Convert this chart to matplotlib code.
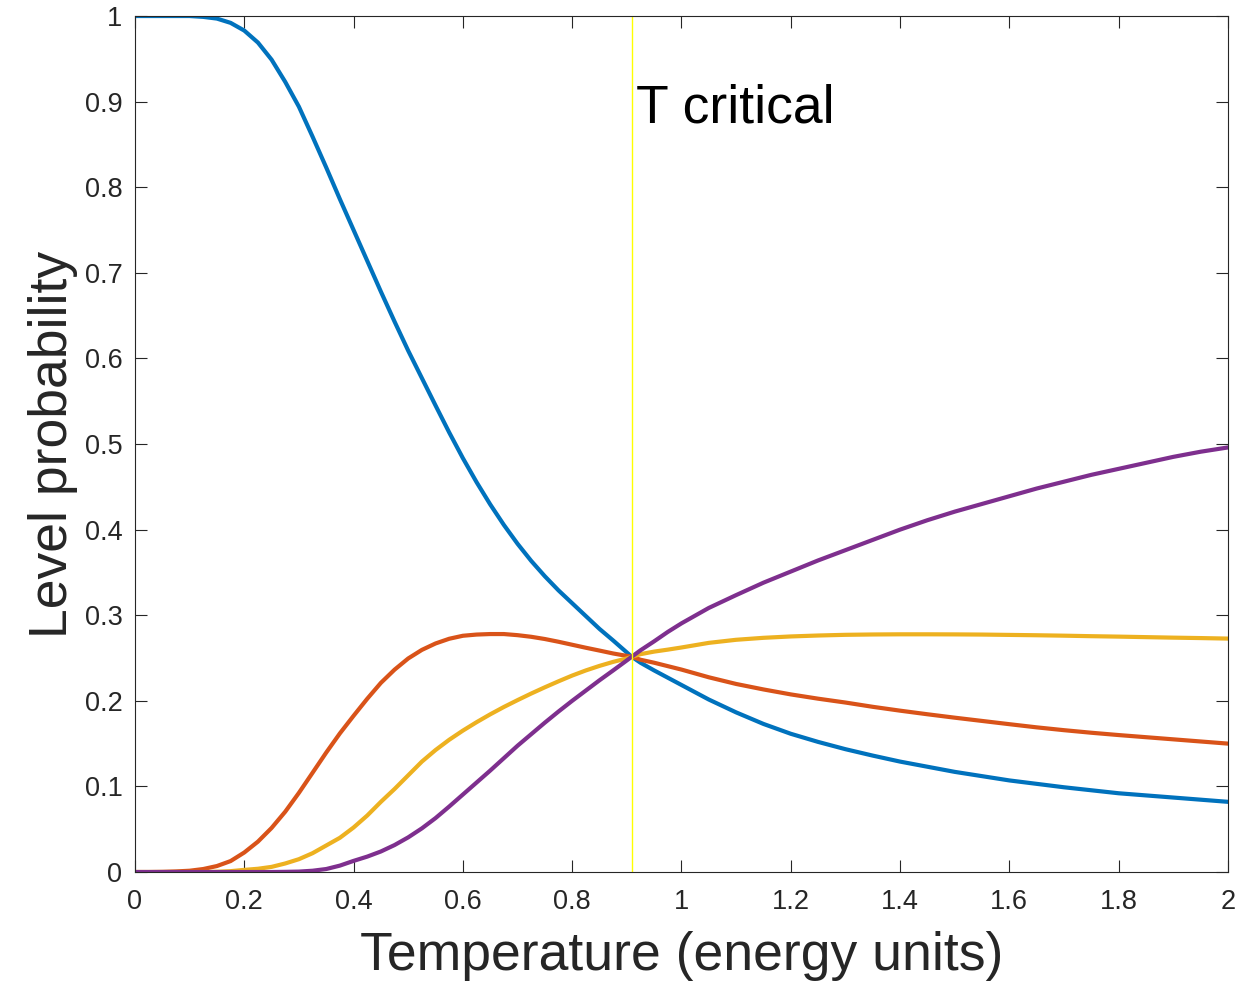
import matplotlib
matplotlib.use('Agg')
import matplotlib.pyplot as plt

plt.rcParams['font.family'] = ['Liberation Sans', 'DejaVu Sans']

# Temperature grid (energy units) and level probabilities
temps = [0.0, 0.025, 0.05, 0.075, 0.1, 0.125, 0.15, 0.175, 0.2, 0.225, 0.25,
         0.275, 0.3, 0.325, 0.35, 0.375, 0.4, 0.425, 0.45, 0.475, 0.5, 0.525,
         0.55, 0.575, 0.6, 0.625, 0.65, 0.675, 0.7, 0.725, 0.75, 0.775, 0.8,
         0.825, 0.85, 0.875, 0.9,
         0.909, 0.925, 0.95, 0.975, 1.0,
         1.05, 1.1, 1.15, 1.2, 1.25, 1.3, 1.35, 1.4, 1.45, 1.5, 1.55, 1.6,
         1.65, 1.7, 1.75, 1.8, 1.85, 1.9, 1.95, 2.0]

level_0 = [1.0, 1.0, 1.0, 1.0, 1.0, 0.999, 0.997, 0.992, 0.983, 0.969, 0.949,
           0.923, 0.894, 0.859, 0.823, 0.786, 0.750, 0.714, 0.678, 0.643, 0.609,
           0.577, 0.545, 0.5135, 0.4835, 0.4555, 0.4295, 0.4055, 0.3835, 0.3635,
           0.3455, 0.329, 0.314, 0.299, 0.284, 0.2705, 0.2565,
           0.2515, 0.2445, 0.2355, 0.227, 0.2185,
           0.2015, 0.1865, 0.173, 0.1615, 0.152, 0.1435, 0.136, 0.129, 0.123,
           0.117, 0.112, 0.107, 0.103, 0.099, 0.0955, 0.092, 0.0895, 0.087,
           0.0845, 0.082]

level_1 = [0.0, 0.0, 0.0002, 0.0007, 0.0015, 0.0035, 0.007, 0.0128, 0.0228,
           0.0355, 0.0515, 0.0705, 0.0925, 0.116, 0.1396, 0.162, 0.1825, 0.2024,
           0.221, 0.2364, 0.2495, 0.2595, 0.267, 0.2725, 0.276, 0.2774, 0.278,
           0.278, 0.2767, 0.2748, 0.2722, 0.269, 0.2655, 0.262, 0.2587, 0.2553,
           0.2525,
           0.2515, 0.248, 0.2445, 0.2405, 0.2365,
           0.2275, 0.2197, 0.2133, 0.2075, 0.2025, 0.198, 0.193, 0.1885, 0.1843,
           0.1803, 0.1765, 0.1727, 0.169, 0.1657, 0.1627, 0.16, 0.1575, 0.155,
           0.1525, 0.150]

level_2 = [0.0, 0.0, 0.0, 0.0, 0.0, 0.0, 0.0003, 0.001, 0.0025, 0.0038, 0.006,
           0.010, 0.015, 0.022, 0.031, 0.040, 0.052, 0.066, 0.082, 0.097, 0.113,
           0.129, 0.1425, 0.1545, 0.1652, 0.175, 0.1842, 0.1928, 0.2008, 0.2085,
           0.2158, 0.2228, 0.2295, 0.2355, 0.2408, 0.2455, 0.2495,
           0.2515, 0.2545, 0.2575, 0.2598, 0.2623,
           0.2677, 0.2713, 0.2736, 0.2752, 0.2763, 0.2771, 0.2775, 0.2777,
           0.2777, 0.2776, 0.2774, 0.277, 0.2766, 0.2761, 0.2755, 0.275, 0.2744,
           0.2738, 0.2733, 0.2727]

level_3 = [0.0, 0.0, 0.0, 0.0, 0.0, 0.0, 0.0, 0.0, 0.0, 0.0, 0.0,
           0.0002, 0.0005, 0.0015, 0.0035, 0.0075, 0.013, 0.018, 0.024, 0.0315,
           0.0405, 0.051, 0.063, 0.0765, 0.0905, 0.1045, 0.1185, 0.133, 0.1475,
           0.161, 0.1745, 0.1875, 0.200, 0.212, 0.224, 0.2355, 0.2472,
           0.2515, 0.259, 0.2695, 0.2805, 0.2905,
           0.3085, 0.3235, 0.338, 0.351, 0.364, 0.376, 0.388, 0.400, 0.411,
           0.421, 0.430, 0.439, 0.448, 0.456, 0.464, 0.471, 0.478, 0.485,
           0.491, 0.496]

t_critical = 0.909

xticks = [0, 0.2, 0.4, 0.6, 0.8, 1, 1.2, 1.4, 1.6, 1.8, 2]
xtick_labels = ['0', '0.2', '0.4', '0.6', '0.8', '1', '1.2', '1.4', '1.6', '1.8', '2']
yticks = [0, 0.1, 0.2, 0.3, 0.4, 0.5, 0.6, 0.7, 0.8, 0.9, 1]
ytick_labels = ['0', '0.1', '0.2', '0.3', '0.4', '0.5', '0.6', '0.7', '0.8', '0.9', '1']

fig = plt.figure(figsize=(12.36, 9.83), dpi=100)
ax = fig.add_axes([0.1092, 0.1129, 0.8843, 0.8708])

ax.plot(temps, level_0, color='#0072BD', lw=3)
ax.plot(temps, level_1, color='#D95319', lw=3)
ax.plot(temps, level_2, color='#EDB120', lw=3)
ax.plot(temps, level_3, color='#7E2F8E', lw=3)
ax.axvline(t_critical, color='#FFFF00', lw=1.0)
ax.text(t_critical + 0.008, 0.892, 'T critical', fontsize=38.5, va='center', ha='left')

ax.set_xlim(0, 2)
ax.set_ylim(0, 1)
ax.set_xticks(xticks)
ax.set_xticklabels(xtick_labels)
ax.set_yticks(yticks)
ax.set_yticklabels(ytick_labels)

ax.tick_params(direction='in', length=8.5, width=0.8, top=True, right=True,
               colors='#262626', labelsize=19.5)
ax.tick_params(axis='x', pad=12)
ax.tick_params(axis='y', pad=9)
for s in ax.spines.values():
    s.set_color('#262626')
    s.set_linewidth(0.8)

ax.set_xlabel('Temperature (energy units)', fontsize=38.5, color='#262626', labelpad=12)
ax.set_ylabel('Level probability', fontsize=38.5, color='#262626', labelpad=5)

fig.savefig('out.png', dpi=100)
